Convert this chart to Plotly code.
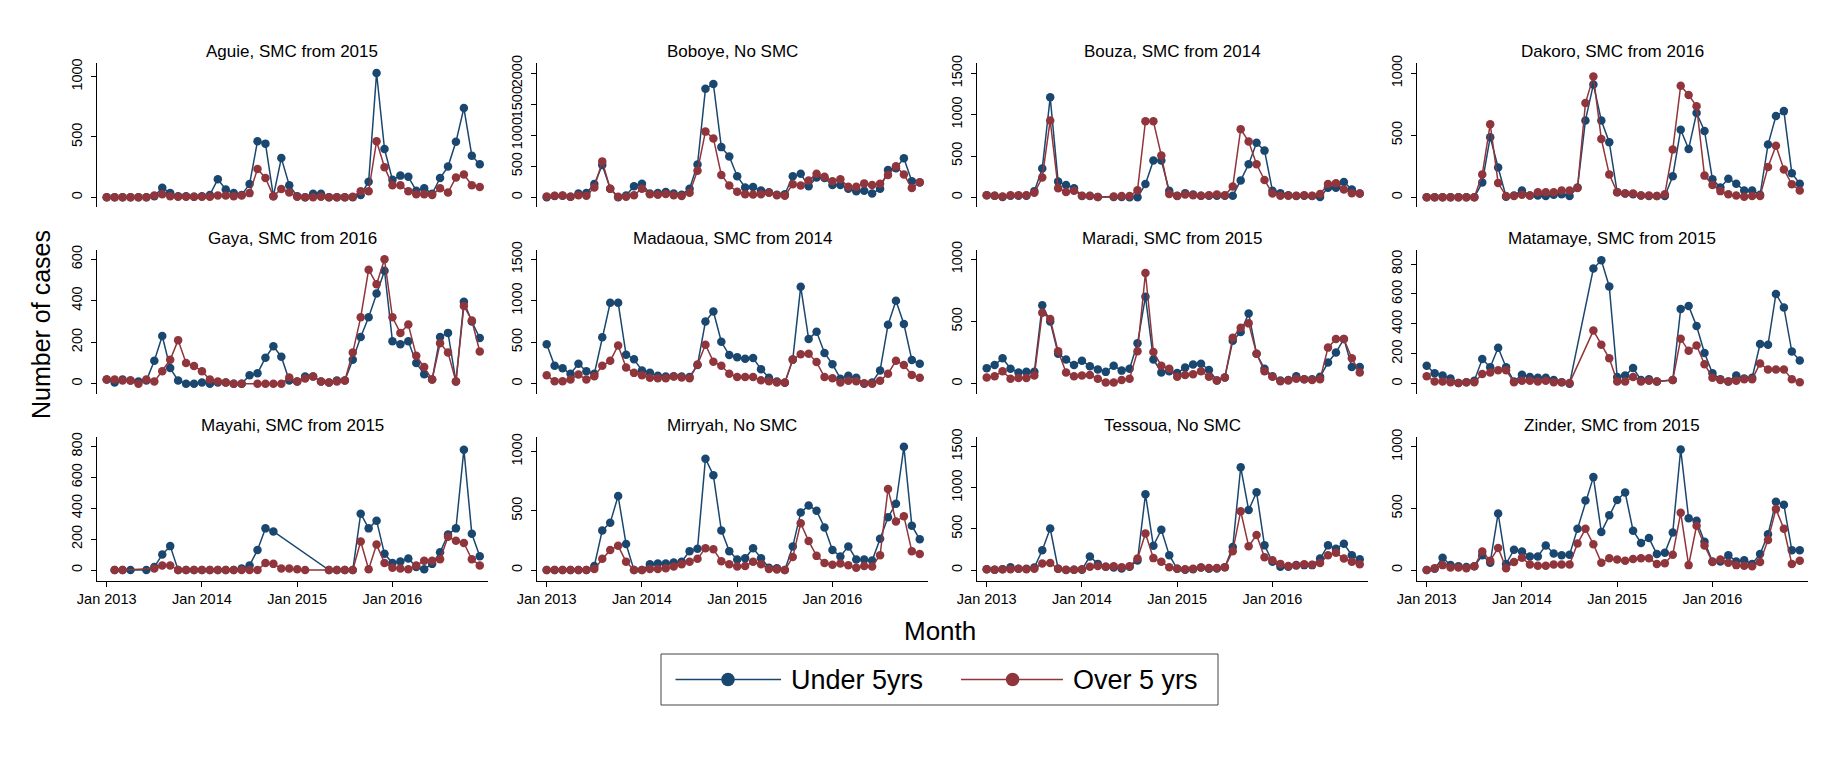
import plotly.graph_objects as go

W, H = 1842, 768
FONT = "Liberation Sans, Arial, Helvetica, sans-serif"
BLUE = "#1a476f"
RED = "#90353b"

# ---------------- data (monthly, Jan 2013 .. Dec 2016; None = missing month) ----------------
tick_labels = ["Jan 2013", "Jan 2014", "Jan 2015", "Jan 2016"]
tick_months = [0, 12, 24, 36]
months = list(range(48))

titles = ["Aguie, SMC from 2015", "Boboye, No SMC", "Bouza, SMC from 2014", "Dakoro, SMC from 2016",
          "Gaya, SMC from 2016", "Madaoua, SMC from 2014", "Maradi, SMC from 2015", "Matamaye, SMC from 2015",
          "Mayahi, SMC from 2015", "Mirryah, No SMC", "Tessoua, No SMC", "Zinder, SMC from 2015"]

aguie_u5 = [0,0,0,0,0,0,10,80,35,10, 10,5,10,20,150,65,35,20,110,465, 445,10,325,100,10,0,30,30,0,0,
            0,0,20,130,1030,400,145,180,170,55, 75,30,160,255,460,740,345,275]
aguie_o5 = [0,0,0,0,0,0,15,25,10,5, 5,5,5,5,15,15,10,15,35,235, 160,10,70,40,5,0,0,5,0,0,
            0,5,50,50,465,250,100,100,50,25, 25,20,75,40,165,190,100,85]

boboye_u5 = [0,20,25,10,60,70,215,520,140,0, 30,180,220,60,70,85,60,40,140,530, 1750,1830,810,660,340,160,165,110,80,40,
             50,340,380,180,320,310,200,200,140,100, 105,60,140,440,470,630,260,240]
boboye_o5 = [15,25,30,10,35,25,160,580,140,10, 10,35,140,50,40,55,35,20,75,430, 1060,950,360,190,90,50,45,50,75,35,
             25,210,190,270,380,330,260,290,170,170, 225,200,220,360,500,370,150,245]

bouza_u5 = [25,20,5,20,20,20,75,350,1210,190, 150,110,15,15,5,None,5,5,0,0, 160,445,445,80,20,50,35,20,20,20,
            20,20,205,400,660,565,80,50,25,15, 20,15,5,115,115,185,95,45]
bouza_o5 = [25,20,10,25,25,25,55,240,930,110, 65,80,20,20,5,None,10,15,15,85, 920,920,505,40,15,35,25,20,25,35,
            25,130,825,675,400,210,45,20,20,20, 25,20,40,160,170,95,50,45]

dakoro_u5 = [0,0,0,0,0,0,0,120,485,240, 5,15,55,15,15,10,20,25,10,80, 620,910,620,445,40,30,25,15,10,10,
             10,170,545,390,680,535,145,80,150,110, 55,55,20,425,655,695,195,110]
dakoro_o5 = [0,0,0,0,0,0,0,185,590,115, 10,10,20,15,40,40,40,55,55,75, 760,975,470,185,40,30,30,15,15,10,
             25,385,900,825,735,175,100,50,25,15, 5,10,10,245,415,225,105,55]

gaya_u5 = [20,5,20,15,10,15,110,230,75,15, 0,0,5,0,5,5,0,0,40,50, 125,180,130,15,10,35,35,10,5,15,
           15,115,225,320,435,545,205,190,205,100, 45,20,225,245,10,395,300,220]
gaya_o5 = [20,20,15,15,0,20,10,60,115,210, 100,85,60,20,10,5,0,0,None,0, 0,0,0,30,10,25,35,10,5,10,
           15,150,320,550,480,600,320,245,285,135, 80,20,195,150,10,375,305,155]

madaoua_u5 = [475,215,185,120,240,150,120,560,975,975, 350,295,160,130,95,85,90,85,80,225, 750,870,505,345,320,300,310,175,70,25,
              10,290,1170,540,625,370,235,60,95,70, 0,15,160,710,1000,720,285,240]
madaoua_o5 = [100,30,30,50,110,50,90,215,275,460, 195,130,100,70,65,65,85,75,65,230, 470,265,215,120,80,80,80,40,30,15,
              15,290,355,360,260,80,65,15,35,30, 5,0,35,120,275,225,105,70]

maradi_u5 = [125,150,205,120,90,95,95,630,500,240, 195,150,185,140,115,95,145,105,120,325, 700,195,90,100,85,130,155,160,110,25,
             50,345,415,565,240,120,60,25,30,60, 35,35,55,170,250,360,135,135]
maradi_o5 = [50,60,100,40,45,45,65,570,520,260, 90,60,65,70,40,10,10,30,40,260, 890,255,145,120,55,70,75,100,55,25,
             50,370,450,485,240,100,55,20,25,40, 35,30,35,290,360,360,205,90]

matamaye_u5 = [120,70,55,35,5,10,20,165,110,240, 110,15,60,45,40,40,25,10,0,None, None,770,825,650,45,55,105,25,30,15,
               None,25,500,520,385,205,70,30,15,55, 35,40,265,260,600,510,215,155]
matamaye_o5 = [50,15,15,10,5,10,10,65,75,90, 90,10,20,20,15,20,10,10,5,None, None,355,260,170,15,15,45,15,20,15,
               None,25,300,220,255,130,40,25,15,20, 30,30,135,95,95,95,30,10]

mayahi_u5 = [None,0,0,0,None,0,20,100,155,0, 0,0,0,0,0,0,0,10,30,130, 270,250,None,None,None,None,None,None,0,0,
             0,0,365,270,320,105,45,55,75,20, 5,40,115,230,270,780,235,90]
mayahi_o5 = [None,0,0,None,None,None,10,30,30,0, 0,0,0,0,0,0,0,0,0,0, 45,40,10,10,5,0,None,None,0,0,
             0,0,185,5,165,45,15,10,5,30, 60,60,70,215,190,175,70,30]

mirryah_u5 = [0,0,0,0,0,0,35,335,400,625, 220,0,0,50,55,55,65,70,160,180, 940,800,335,160,90,100,185,100,20,15,
              0,200,485,545,500,360,170,115,200,90, 90,80,265,445,560,1040,375,260]
mirryah_o5 = [0,0,0,0,0,0,10,95,170,205, 70,0,0,10,10,15,30,50,70,95, 185,175,75,50,30,35,70,50,10,5,
              0,110,395,245,120,60,45,55,40,20, 35,30,125,685,410,455,160,135]

tessoua_u5 = [10,5,10,35,15,15,30,240,505,15, 0,5,5,165,75,40,30,20,40,115, 920,295,490,180,15,5,10,30,15,20,
              35,280,1250,730,945,300,100,40,40,60, 60,60,140,300,260,320,180,130]
tessoua_o5 = [10,5,10,10,15,10,15,80,85,15, 5,5,10,40,50,40,45,35,45,140, 445,145,100,35,15,10,15,30,25,25,
              35,230,715,290,425,155,120,75,50,55, 70,65,85,180,210,140,100,70]

zinder_u5 = [0,10,100,40,30,25,30,120,60,460, 50,165,150,110,110,200,135,120,125,335, 565,755,310,445,570,630,320,220,260,130,
             140,305,980,420,400,230,70,70,120,70, 80,50,130,290,555,530,160,160]
zinder_o5 = [0,15,40,20,20,15,30,150,75,180, 15,65,100,45,35,35,45,45,45,215, 335,210,60,95,85,75,90,95,95,50,
             55,125,465,40,360,200,65,85,60,40, 35,30,65,245,495,335,50,75]

under5 = [aguie_u5, boboye_u5, bouza_u5, dakoro_u5, gaya_u5, madaoua_u5, maradi_u5, matamaye_u5,
          mayahi_u5, mirryah_u5, tessoua_u5, zinder_u5]
over5 = [aguie_o5, boboye_o5, bouza_o5, dakoro_o5, gaya_o5, madaoua_o5, maradi_o5, matamaye_o5,
         mayahi_o5, mirryah_o5, tessoua_o5, zinder_o5]

y_ticks = [[0, 500, 1000], [0, 500, 1000, 1500, 2000], [0, 500, 1000, 1500], [0, 500, 1000],
           [0, 200, 400, 600], [0, 500, 1000, 1500], [0, 500, 1000], [0, 200, 400, 600, 800],
           [0, 200, 400, 600, 800], [0, 500, 1000], [0, 500, 1000, 1500], [0, 500, 1000]]

y_ranges = [[-80, 1113], [-156, 2167], [-117, 1625], [-78, 1083],
            [-50, 645], [-125, 1613], [-83, 1075], [-69, 894],
            [-71, 862], [-92, 1123], [-133, 1617], [-89, 1081]]

legend_names = ["Under 5yrs", "Over 5 yrs"]

# ---------------- layout geometry (pixels) ----------------
col_left = [96.7, 536.7, 976.7, 1416.7]
col_w = 391
row_top = [63, 250, 437]
row_h = 144
x_range = [-1.26, 48.0]


def px(x):
    return x / W


def py(y):
    return 1 - y / H


fig = go.Figure()
layout = {}
annotations = []
for k in range(12):
    r, c = divmod(k, 4)
    n = k + 1
    xa = "x" if n == 1 else f"x{n}"
    ya = "y" if n == 1 else f"y{n}"
    for vals, color, name in ((under5[k], BLUE, legend_names[0]), (over5[k], RED, legend_names[1])):
        fig.add_trace(go.Scatter(
            x=months, y=vals, mode="lines+markers", name=name, connectgaps=True,
            line=dict(color=color, width=1.5),
            marker=dict(color=color, size=8.5, line=dict(width=0)),
            xaxis=xa, yaxis=ya, showlegend=False, cliponaxis=False))
    x0 = col_left[c]
    x1 = x0 + col_w
    top = row_top[r]
    bot = top + row_h
    bottom_row = (r == 2)
    layout["xaxis" if n == 1 else f"xaxis{n}"] = dict(
        domain=[px(x0), px(x1)], anchor=ya, range=x_range, automargin=False,
        visible=bottom_row, showline=bottom_row, linecolor="#000", linewidth=1,
        ticks="outside" if bottom_row else "", ticklen=5, tickcolor="#000",
        tickvals=tick_months, ticktext=tick_labels, showticklabels=bottom_row,
        tickfont=dict(family=FONT, size=14.5, color="#000"),
        showgrid=False, zeroline=False, fixedrange=True)
    layout["yaxis" if n == 1 else f"yaxis{n}"] = dict(
        domain=[py(bot), py(top)], anchor=xa, range=y_ranges[k], automargin=False,
        tickvals=y_ticks[k], tickangle=-90, showline=True, linecolor="#000", linewidth=1,
        ticks="outside", ticklen=5, tickcolor="#000", ticklabelstandoff=3,
        tickfont=dict(family=FONT, size=14.5, color="#000"),
        showgrid=False, zeroline=False, fixedrange=True)
    annotations.append(dict(
        text=titles[k], x=px((x0 + x1) / 2), y=py(top - 11.6), xref="paper", yref="paper",
        xanchor="center", yanchor="middle", showarrow=False,
        font=dict(family=FONT, size=17, color="#000")))

# axis titles
annotations.append(dict(text="Number of cases", x=px(41), y=py(325), xref="paper", yref="paper",
                        textangle=-90, showarrow=False, xanchor="center", yanchor="middle",
                        font=dict(family=FONT, size=25, color="#000")))
annotations.append(dict(text="Month", x=px(940), y=py(631), xref="paper", yref="paper",
                        showarrow=False, xanchor="center", yanchor="middle",
                        font=dict(family=FONT, size=26, color="#000")))

# custom legend (Stata-style long keys)
shapes = []
leg_y = 679.5
shapes.append(dict(type="rect", xref="paper", yref="paper", x0=px(661), x1=px(1218), y0=py(705), y1=py(654),
                   line=dict(color="#444", width=1), fillcolor="rgba(0,0,0,0)"))
for (lx0, lx1, mx, tx), color, name in (((675.5, 781, 728, 789), BLUE, legend_names[0]),
                                         ((961, 1063, 1012.6, 1071), RED, legend_names[1])):
    shapes.append(dict(type="line", xref="paper", yref="paper", x0=px(lx0), x1=px(lx1), y0=py(leg_y), y1=py(leg_y),
                       line=dict(color=color, width=1.6)))
    shapes.append(dict(type="circle", xref="paper", yref="paper", xsizemode="pixel", ysizemode="pixel",
                       xanchor=px(mx), yanchor=py(leg_y), x0=-6.8, x1=6.8, y0=-6.8, y1=6.8,
                       fillcolor=color, line=dict(width=0)))
    annotations.append(dict(text=name, x=px(tx), y=py(leg_y), xref="paper", yref="paper",
                            xanchor="left", yanchor="middle", showarrow=False,
                            font=dict(family=FONT, size=27, color="#000")))

fig.update_layout(
    width=W, height=H, margin=dict(l=0, r=0, t=0, b=0, autoexpand=False),
    paper_bgcolor="white", plot_bgcolor="white",
    font=dict(family=FONT, color="#000"),
    annotations=annotations, shapes=shapes, showlegend=False, **layout)

fig.write_html("out.html", config={"displayModeBar": False},
               post_script="document.body.style.margin='0px';")
